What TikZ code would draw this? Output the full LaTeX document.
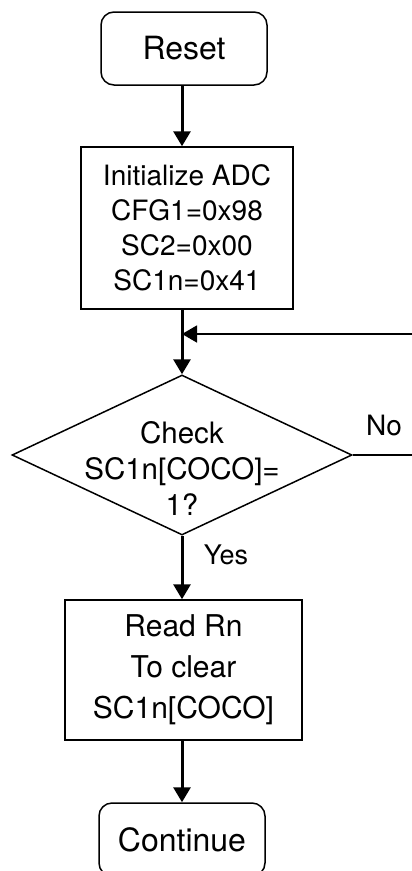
\documentclass[tikz,border=0pt]{standalone}
\usepackage{fontspec}
\setmainfont{TeX Gyre Heros}
\usetikzlibrary{
	arrows.meta,
	shapes.geometric
}

\begin{document}
\begin{tikzpicture}[x=1pt, y=-1pt,
		box/.style={draw, line width=1.5pt, inner sep=0pt, align=center},
		term/.style={box, rounded corners=13pt, minimum width=166pt, minimum height=73pt, font=\fontsize{32}{38}\selectfont},
		decision/.style={draw, diamond, line width=1.5pt, inner sep=0pt, minimum width=340pt, minimum height=160pt},
		flow/.style={line width=3pt, -{Triangle[length=15pt, width=17pt]}},
		loopline/.style={line width=1.5pt, -{Triangle[length=15pt, width=17pt]}}]
		\useasboundingbox (0,0) rectangle (412,871);
		\node[term] (reset) at (184,48.5) {Reset};
		\node[box, minimum width=212pt, minimum height=162pt, font=\fontsize{28}{35}\selectfont] (init) at (187,228) {Initialize ADC\\CFG1=0x98\\SC2=0x00\\SC1n=0x41};
		\node[decision] (check) at (182,455) {};
		\node[align=center, font=\fontsize{29.5}{36}\selectfont] (checktext) at (182,468) {Check\\SC1n[COCO]=\\1?};
		\node[box, minimum width=237pt, minimum height=140pt, font=\fontsize{30}{41}\selectfont] (read) at (183.5,670) {Read Rn\\To clear\\SC1n[COCO]};
		\node[term] (cont) at (182,839.5) {Continue};
		\node[font=\fontsize{28}{30}\selectfont] (no) at (384,425) {No};
		\node[font=\fontsize{27}{30}\selectfont] (yes) at (226,555) {Yes};
		% free ends of the loop, cut off at the right edge
		\coordinate (noend) at (412,455);
		\coordinate (loopin) at (412,334);
		\coordinate (merge) at (182,334);
		\draw[flow] (reset.south -| check.north) -- (init.north -| check.north);
		\draw[flow] (init.south -| check.north) -- (check.north);
		\draw[loopline] (loopin) -- (merge);
		\draw[line width=1.5pt] (check.east) -- (noend);
		\draw[flow] (check.south) -- (check.south |- read.north);
		\draw[flow] (read.south -| cont.north) -- (cont.north);
	\end{tikzpicture}
\end{document}
